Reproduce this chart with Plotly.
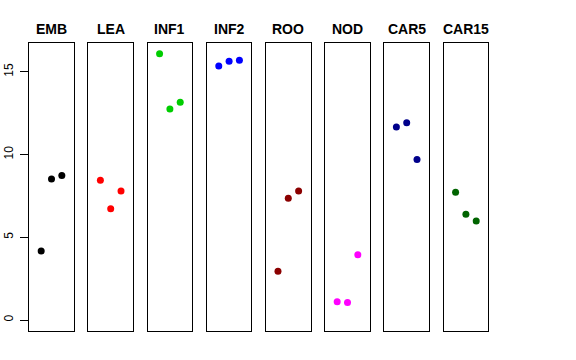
import plotly.graph_objects as go

groups = ["EMB", "LEA", "INF1", "INF2", "ROO", "NOD", "CAR5", "CAR15"]
values = [
    [4.17, 8.52, 8.74],
    [8.45, 6.72, 7.80],
    [16.1, 12.76, 13.16],
    [15.36, 15.64, 15.70],
    [2.95, 7.36, 7.80],
    [1.11, 1.06, 3.95],
    [11.67, 11.92, 9.70],
    [7.72, 6.40, 5.99],
]
colors = ["#000000", "#FF0000", "#00CD00", "#0000FF", "#8B0000", "#FF00FF", "#00008B", "#006400"]
xpos = [1, 2, 3]
yticks = [0, 5, 10, 15]

W, H = 576, 360
left0, pw, step = 29.2, 44.6, 59.2
top, bottom = 43.0, 330.7

fig = go.Figure()
ann = []
for i, (g, v, c) in enumerate(zip(groups, values, colors)):
    k = "" if i == 0 else str(i + 1)
    fig.add_trace(go.Scatter(x=xpos, y=v, mode="markers",
                             marker=dict(color=c, size=7, line=dict(width=0)),
                             xaxis="x" + k, yaxis="y" + k, showlegend=False,
                             hoverinfo="skip"))
    x0 = left0 + i * step
    x1 = x0 + pw
    fig.layout["xaxis" + k] = dict(domain=[x0 / W, x1 / W], range=[-0.16, 4.16],
                                   showline=True, mirror=True, linecolor="black", linewidth=1,
                                   showgrid=False, zeroline=False, showticklabels=False, ticks="",
                                   anchor="y" + k, fixedrange=True, automargin=False)
    ydict = dict(domain=[(H - bottom) / H, (H - top) / H], range=[-0.644, 16.744],
                 showline=True, mirror=True, linecolor="black", linewidth=1,
                 showgrid=False, zeroline=False, anchor="x" + k, fixedrange=True,
                 automargin=False)
    if i == 0:
        ydict.update(tickvals=yticks, ticktext=[str(t) for t in yticks], ticks="outside",
                     ticklen=8, tickwidth=1, tickcolor="black", tickangle=-90,
                     ticklabelstandoff=2,
                     showticklabels=True, tickfont=dict(size=12, color="black",
                                                        family="Liberation Sans, Arial, sans-serif"))
    else:
        ydict.update(showticklabels=False, ticks="")
    fig.layout["yaxis" + k] = ydict
    ann.append(dict(text="<b>%s</b>" % g, x=(x0 + x1) / 2 / W, y=(H - 29) / H,
                    xref="paper", yref="paper", showarrow=False, xanchor="center", yanchor="middle",
                    font=dict(size=14, color="black", family="Liberation Sans, Arial, sans-serif")))

fig.update_layout(width=W, height=H, margin=dict(l=0, r=0, t=0, b=0, autoexpand=False),
                  paper_bgcolor="white", plot_bgcolor="white", annotations=ann,
                  font=dict(family="Liberation Sans, Arial, sans-serif"))
fig.write_html("out.html", config={"displayModeBar": False, "staticPlot": True},
               post_script="document.body.style.margin='0';document.body.style.overflow='hidden';")
